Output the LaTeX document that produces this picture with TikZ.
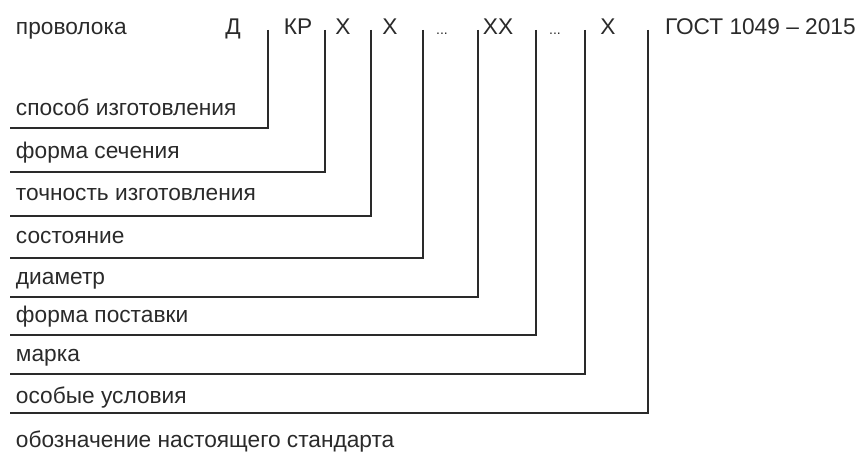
\documentclass[tikz,border=0pt]{standalone}
\usepackage{fontspec}
\setmainfont{Liberation Sans}
\definecolor{ink}{HTML}{2A2A2A}
\begin{document}
\begin{tikzpicture}[x=1pt,y=-1pt,
  every node/.style={inner sep=0pt,outer sep=0pt,text=ink,font=\fontsize{22.7}{27}\selectfont},
  toplbl/.style={anchor=base},
  lbl/.style={anchor=base west},
  dots/.style={anchor=base,font=\fontsize{14}{16}\selectfont},
  leader/.style={draw=ink,line width=1.8pt}]
\useasboundingbox (0,0) rectangle (866,452);
% top row
\node[lbl] (wire) at (16,35) {проволока};
\node[toplbl] (d) at (233,35) {Д};
\node[toplbl] (kr) at (298,35) {КР};
\node[toplbl] (x1) at (343,35) {Х};
\node[toplbl] (x2) at (390,35) {Х};
\node[dots] (dots1) at (442,35) {...};
\node[toplbl] (xx) at (498,35) {ХХ};
\node[dots] (dots2) at (555,35) {...};
\node[toplbl] (x3) at (608,35) {Х};
\node[lbl] (gost) at (665,35) {ГОСТ 1049 – 2015};
% tops of leader lines
\coordinate (t1) at (268,30);
\coordinate (t2) at (325,30);
\coordinate (t3) at (371,30);
\coordinate (t4) at (423,30);
\coordinate (t5) at (478,30);
\coordinate (t6) at (536,30);
\coordinate (t7) at (585,30);
\coordinate (t8) at (648,30);
% left ends
\coordinate (e1) at (10,128);
\coordinate (e2) at (10,172);
\coordinate (e3) at (10,216);
\coordinate (e4) at (10,258);
\coordinate (e5) at (10,297);
\coordinate (e6) at (10,335);
\coordinate (e7) at (10,374);
\coordinate (e8) at (10,413);
\foreach \i in {1,...,8} \draw[leader] (t\i) |- (e\i);
% labels
\node[lbl] (l1) at (16,115) {способ изготовления};
\node[lbl] (l2) at (16,158) {форма сечения};
\node[lbl] (l3) at (16,200) {точность изготовления};
\node[lbl] (l4) at (16,243) {состояние};
\node[lbl] (l5) at (16,284) {диаметр};
\node[lbl] (l6) at (16,322) {форма поставки};
\node[lbl] (l7) at (16,361) {марка};
\node[lbl] (l8) at (16,403) {особые условия};
\node[lbl] (l9) at (16,447) {обозначение настоящего стандарта};
\end{tikzpicture}
\end{document}
